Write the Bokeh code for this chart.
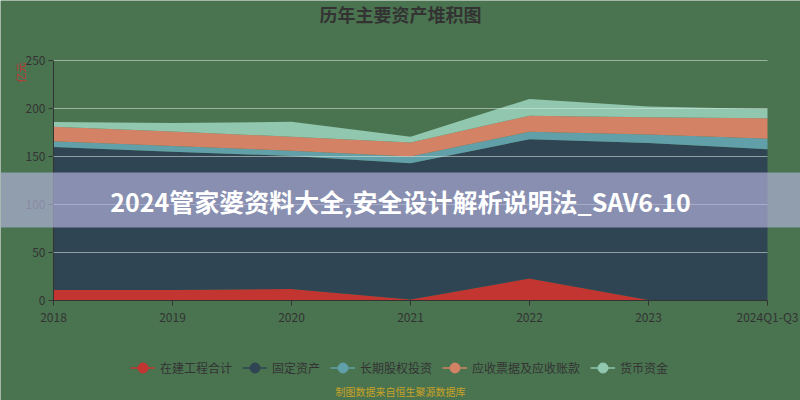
from bokeh.plotting import figure
from bokeh.models import (Range1d, FixedTicker, Legend, LegendItem, Label,
                          BoxAnnotation, ColumnDataSource, LinearAxis)
from bokeh.embed import file_html
from bokeh.resources import INLINE

categories = ["2018", "2019", "2020", "2021", "2022", "2023", "2024Q1-Q3"]
series_names = ["在建工程合计", "固定资产", "长期股权投资", "应收票据及应收账款", "货币资金"]
construction = [11, 11, 12, 1, 23, 0.5, 0.5]
fixed_assets = [149, 144, 138.6, 142, 145, 163.5, 157]
equity_invest = [6, 6, 5.5, 7, 7.7, 9, 11]
receivables = [15, 15, 14.5, 14.5, 16.8, 18, 21.4]
cash = [5, 9, 15.5, 6, 17.5, 11, 9.5]
y_ticks = [0, 50, 100, 150, 200, 250]

colors = ["#c23531", "#2f4554", "#61a0a8", "#d48265", "#91c7ae"]
FONT = "Noto Sans CJK SC"
BG = "#4a7350"

W, H = 800, 400
PL, PR, PT, PB = 53, 767, 60, 300   # plot box in canvas pixels
n = len(categories)
ymax = 250
xu = (n - 1) / (PR - PL)
yu = ymax / (PB - PT)
x_range = Range1d(-PL * xu, (n - 1) + (W - PR) * xu)
y_range = Range1d(-(H - PB) * yu, ymax + PT * yu)

xs = list(range(n))
keys = ["s0", "s1", "s2", "s3", "s4"]
src = ColumnDataSource(dict(x=xs, s0=construction, s1=fixed_assets, s2=equity_invest,
                            s3=receivables, s4=cash))

p = figure(width=W, height=H, output_backend="svg", toolbar_location=None,
           x_range=x_range, y_range=y_range,
           x_axis_location=None, y_axis_location=None,
           min_border=0, background_fill_color=BG,
           border_fill_color=BG, outline_line_color=None)

p.varea_stack(stackers=keys, x="x", source=src, color=colors, alpha=1.0)

# axes fixed at the data origin (take no panel space)
xaxis = LinearAxis(fixed_location=0, ticker=FixedTicker(ticks=xs),
                   bounds=(0, n - 1))
xaxis.major_label_overrides = {i: c for i, c in enumerate(categories)}
yaxis = LinearAxis(fixed_location=0, ticker=FixedTicker(ticks=y_ticks),
                   bounds=(0, ymax))
for ax in (xaxis, yaxis):
    ax.axis_line_color = "#333333"
    ax.major_tick_line_color = "#333333"
    ax.major_tick_out = 5
    ax.major_tick_in = 0
    ax.minor_tick_line_color = None
    ax.major_label_text_color = "#333333"
    ax.major_label_text_font = FONT
    ax.major_label_text_font_size = "12px"
xaxis.major_label_standoff = 2
yaxis.major_label_standoff = 3
p.add_layout(xaxis, "below")
p.add_layout(yaxis, "left")

p.xgrid.grid_line_color = None
p.ygrid.ticker = FixedTicker(ticks=y_ticks[1:])
p.ygrid.grid_line_color = "#dfe8df"
p.ygrid.grid_line_alpha = 0.55
p.ygrid.level = "overlay"
p.ygrid.cross_bounds = (0, n - 1)

# legend (dummy renderers with line + circle)
items = []
for name, c in zip(series_names, colors):
    lr = p.line([float("nan")], [float("nan")], line_color=c, line_width=1.5)
    cr = p.scatter([float("nan")], [float("nan")], size=13, fill_color=c,
                   line_color=c)
    items.append(LegendItem(label=name, renderers=[lr, cr]))
legend = Legend(items=items, orientation="horizontal", location=(130, 20),
                glyph_width=25, glyph_height=25, label_standoff=5, spacing=10,
                padding=0, margin=0, border_line_color=None,
                background_fill_alpha=0, label_text_font=FONT,
                label_text_font_size="12px", label_text_color="#333333")
p.add_layout(legend, "center")

# title
p.add_layout(Label(x=400, y=H - 13, x_units="screen", y_units="screen",
                   text="历年主要资产堆积图", text_font=FONT,
                   text_font_size="18px", text_font_style="bold",
                   text_color="#333333", text_align="center",
                   text_baseline="middle"))
# y axis name
p.add_layout(Label(x=20, y=H - 72, x_units="screen", y_units="screen",
                   text="亿元", text_font=FONT, text_font_size="10px",
                   text_color="#c23531", text_align="center",
                   text_baseline="middle", angle=1.5708))
# footnote
p.add_layout(Label(x=400, y=9, x_units="screen", y_units="screen",
                   text="制图数据来自恒生聚源数据库", text_font=FONT,
                   text_font_size="10px", text_color="#c9a227",
                   text_align="center", text_baseline="middle"))
# overlay banner
p.add_layout(BoxAnnotation(left=0, right=W, bottom=H - 227, top=H - 172,
                           left_units="screen", right_units="screen",
                           bottom_units="screen", top_units="screen",
                           fill_color="#b3b2dc", fill_alpha=0.68,
                           line_color=None, level="overlay"))
p.add_layout(Label(x=400, y=H - 200, x_units="screen", y_units="screen",
                   text="2024管家婆资料大全,安全设计解析说明法_SAV6.10",
                   text_font=FONT, text_font_size="25px",
                   text_font_style="bold", text_color="#ffffff",
                   text_align="center", text_baseline="middle",
                   level="overlay"))

open("out.html", "w").write(file_html(p, INLINE))
